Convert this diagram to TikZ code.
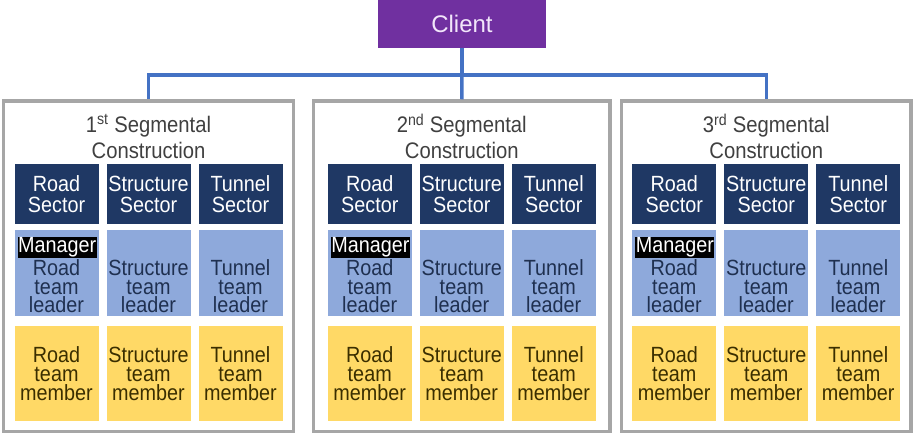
\documentclass[tikz,border=0pt]{standalone}
\usepackage{fontspec}
\setmainfont{Liberation Sans}[FakeStretch=0.9]
\newfontfamily\clientfont{Liberation Sans}
\usepackage{xcolor}
\usetikzlibrary{shapes}
\definecolor{clientpurple}{HTML}{7030A0}
\definecolor{clienttext}{HTML}{F2E6FA}
\definecolor{framegray}{HTML}{A6A6A6}
\definecolor{titlegray}{HTML}{404040}
\definecolor{sectornavy}{HTML}{1F3864}
\definecolor{leaderblue}{HTML}{8EA9DB}
\definecolor{leaderink}{HTML}{1F3050}
\definecolor{memberyellow}{HTML}{FFD966}
\definecolor{memberink}{HTML}{3A2E00}
\definecolor{linkblue}{HTML}{4472C4}
\tikzstyle{client} = [rectangle, minimum width=168pt, minimum height=48pt, inner sep=0pt, fill=clientpurple, text=clienttext, font=\clientfont\fontsize{24}{24}\selectfont]
\tikzstyle{segment} = [rectangle, minimum height=330.5pt, inner sep=0pt, draw=framegray, line width=3.5pt]
\tikzstyle{segtitle} = [align=center, inner sep=0pt, text=titlegray, font=\fontsize{22.5}{26}\selectfont]
\tikzstyle{sector} = [rectangle, minimum width=84pt, minimum height=60pt, inner sep=0pt, align=center, fill=sectornavy, text=white, font=\fontsize{22}{21}\selectfont]
\tikzstyle{leader} = [rectangle, minimum width=84pt, minimum height=86pt, inner sep=0pt, fill=leaderblue]
\tikzstyle{leadertext} = [align=center, inner sep=0pt, text=leaderink, font=\fontsize{22}{18.5}\selectfont]
\tikzstyle{member} = [rectangle, minimum width=84pt, minimum height=95pt, inner sep=0pt, align=center, fill=memberyellow, text=memberink, font=\fontsize{22}{19}\selectfont]
\tikzstyle{manager} = [rectangle, anchor=north west, minimum width=79pt, minimum height=21pt, inner sep=0pt, fill=black, text=white, font=\fontsize{22}{21}\selectfont]
\tikzstyle{link} = [line width=3.5pt, draw=linkblue]
\begin{document}
\begin{tikzpicture}[x=1pt, y=1pt, yscale=-1]
\useasboundingbox (0,0) rectangle (913,437);

\node at (462, 24) (client) [client] {Client};

\foreach \s/\cx/\w/\ord in {1/148.5/290/st, 2/461.75/296.5/nd, 3/766.25/289.5/rd} {
  \node at (\cx, 266.25) (seg\s) [segment, minimum width=\w pt] {};
  \node at (\cx, 136.5) (segtitle\s) [segtitle] {\s\textsuperscript{\ord} Segmental\\Construction};
  \foreach \col/\dx/\lbl in {road/-92/Road, struct/0/Structure, tunnel/92/Tunnel} {
    \node at (\cx+\dx, 194) (sector\s\col) [sector] {\lbl\\Sector};
    \node at (\cx+\dx, 273) (leader\s\col) [leader] {};
    \node at (\cx+\dx, 286.5) (leadtext\s\col) [leadertext] {\lbl\\team\\leader};
    \node at (\cx+\dx, 373.5) (member\s\col) [member] {\lbl\\team\\member};
  }
  \node at (\cx-131, 237) (manager\s) [manager] {Manager};
}

% client to the three segments
\coordinate (bus) at (462, 75);
\draw[link] (client.south) -- (bus);
\draw[link] (bus) -- (seg2.north);
\draw[link] (bus) -| (seg1.north);
\draw[link] (bus) -| (seg3.north);

\end{tikzpicture}
\end{document}
